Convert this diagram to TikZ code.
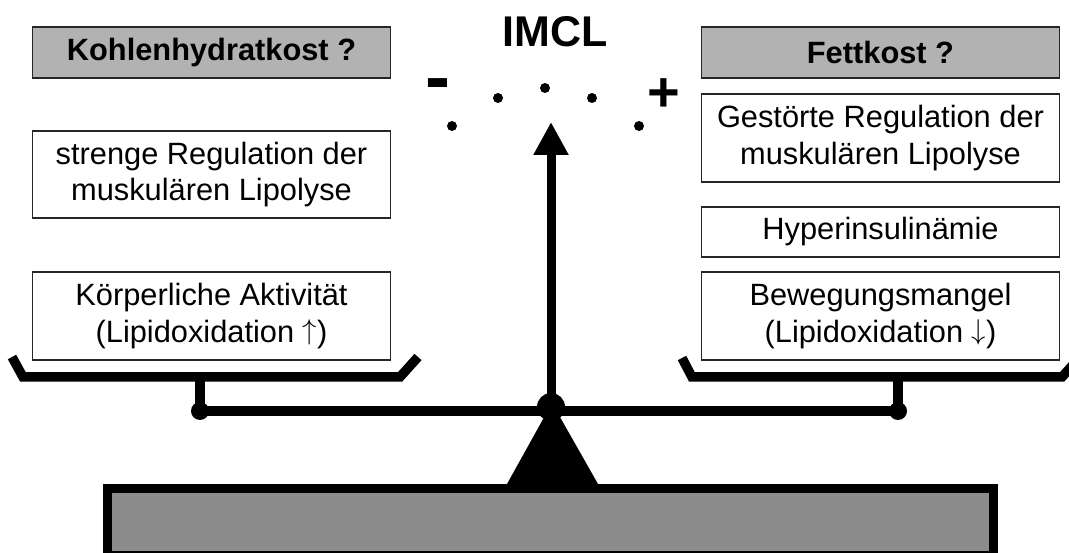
\documentclass[tikz,border=0pt]{standalone}
\usepackage{fontspec}
\usepackage{graphicx}
\setmainfont{Liberation Sans}
\usetikzlibrary{arrows.meta}

\newcommand{\hochpfeil}{\raisebox{0.08em}[0.6em][0pt]{\scalebox{1.15}{$\uparrow$}}}
\newcommand{\tiefpfeil}{\raisebox{0.08em}[0.6em][0pt]{\scalebox{1.15}{$\downarrow$}}}

\begin{document}
\begin{tikzpicture}[x=1pt, y=-1pt, >={Triangle[length=33pt,width=33pt]},
		kasten/.style={draw=black!85, line width=1.3pt, align=center, inner sep=0pt,
			minimum width=358pt, font=\fontsize{30.8}{36.5}\selectfont},
		kopf/.style={kasten, fill=black!30, minimum height=51pt, font=\bfseries\fontsize{30.8}{36.5}\selectfont},
		zeichen/.style={inner sep=0pt, font=\bfseries\fontsize{56}{56}\selectfont},
		schale/.style={line width=9.5pt, line cap=butt, line join=miter},
		balken/.style={line width=10pt, line cap=butt}]
	\useasboundingbox (0,0) rectangle (1069,553);
	
	% Überschriften der beiden Seiten
	\node[kopf] (kohlen) at (211.5,52.5) {Kohlenhydratkost ?};
	\node[kopf] (fett) at (880.5,52.5) {Fettkost ?};
	\node[anchor=base, inner sep=0pt, font=\bfseries\fontsize{43}{43}\selectfont] (imcl) at (555,47) {IMCL};
	
	% linke Seite
	\node[kasten, minimum height=87pt] (strenge) at (211.5,174.5) {strenge Regulation der\\muskulären Lipolyse};
	\node[kasten, minimum height=88pt] (koerper) at (211.5,316) {Körperliche Aktivität\\(Lipidoxidation \hochpfeil)};
	
	% rechte Seite
	\node[kasten, minimum height=88pt] (gestoert) at (880.5,138) {Gestörte Regulation der\\muskulären Lipolyse};
	\node[kasten, minimum height=50pt] (hyper) at (880.5,232) {Hyperinsulinämie};
	\node[kasten, minimum height=88pt] (bewegung) at (880.5,316) {Bewegungsmangel\\(Lipidoxidation \tiefpfeil)};
	
	% Skala über dem Zeiger
	\node[zeichen, anchor=base, font=\bfseries\fontsize{75}{75}\selectfont] (minus) at (437.5,103) {-};
	\node[zeichen, anchor=base] (plus) at (663.5,112) {+};
	\foreach \x/\y in {452/126, 498/98, 545/88, 592/98, 639/126}
		\fill (\x,\y) circle (5);
	
	% Punkte der Waage
	\coordinate (drehpunkt) at (551,407);
	\coordinate (spitze) at (551,122);
	\coordinate (lhaken) at (200,411);
	\coordinate (rhaken) at (898,411);
	\coordinate (lschale) at (200,377);
	\coordinate (rschale) at (898,377);
	
	% Waagschalen
	\draw[schale] (12,357) -- (23,377) -- (400,377) -- (418,357);
	\draw[schale] (682,358) -- (692,377) -- (1062,377) -- (1080,357);
	
	% Aufhängung und Balken
	\draw[balken] (lschale) -- (lhaken);
	\draw[balken] (rschale) -- (rhaken);
	\draw[balken] (lhaken) -- (rhaken);
	\fill (lhaken) circle (9);
	\fill (rhaken) circle (9);
	
	% Dreieck, Drehpunkt und Zeiger
	\fill (552,403) -- (507,484) -- (598,484) -- cycle;
	\fill (drehpunkt) circle (14);
	\draw[line width=9pt, ->] (drehpunkt) -- (spitze);
	
	% Sockel
	\draw[line width=9pt, fill=black!45] (107.5,488.5) rectangle (993.5,555.5);
\end{tikzpicture}
\end{document}
